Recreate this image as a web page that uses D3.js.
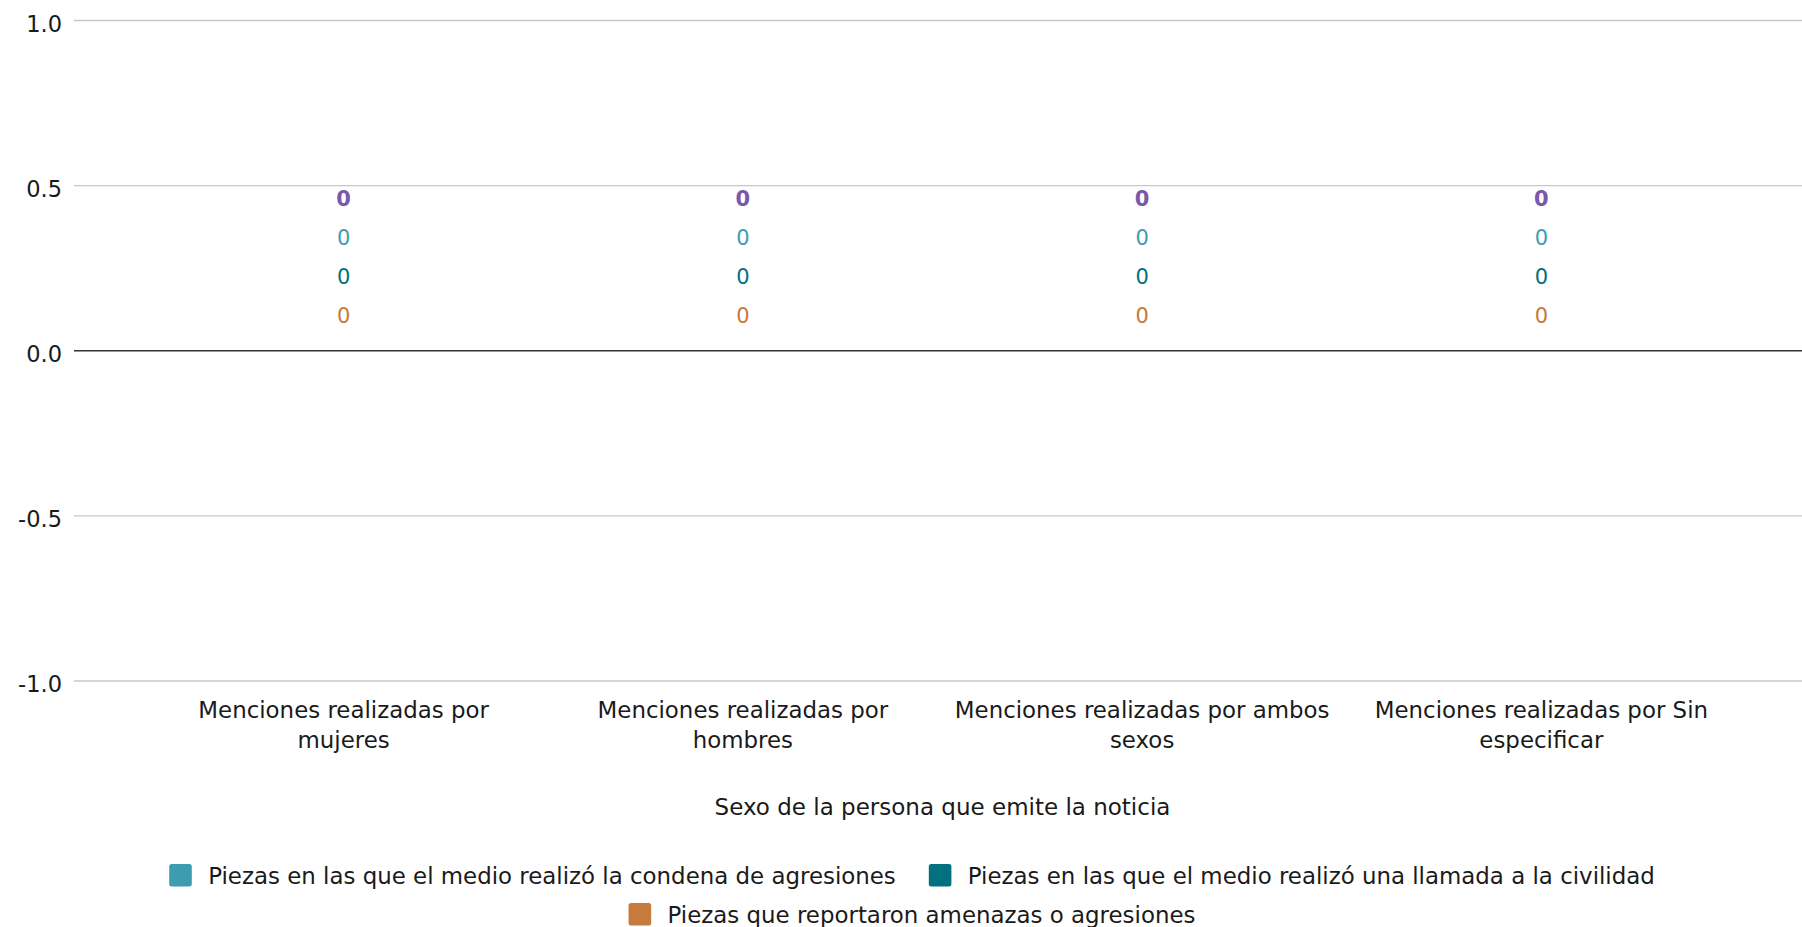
<!DOCTYPE html>
<html>
<head>
<meta charset="utf-8">
<script src="https://cdn.jsdelivr.net/npm/d3@7"></script>
<style>
  html, body { margin: 0; padding: 0; background: #ffffff; }
  svg { display: block; font-family: "DejaVu Sans", Verdana, sans-serif; }
</style>
</head>
<body>
<svg id="chart" width="1802" height="927"></svg>
<script>
// Categories on the x axis
const categories = [
  "Menciones realizadas por mujeres",
  "Menciones realizadas por hombres",
  "Menciones realizadas por ambos sexos",
  "Menciones realizadas por Sin especificar"
];

// Series names (legend order)
const seriesNames = [
  "Piezas en las que el medio realizó la condena de agresiones",
  "Piezas en las que el medio realizó una llamada a la civilidad",
  "Piezas que reportaron amenazas o agresiones"
];

// Series values, one per category
const condena  = [0, 0, 0, 0];
const llamada  = [0, 0, 0, 0];
const amenazas = [0, 0, 0, 0];

const seriesColors = ["#3e9cb0", "#03707f", "#c67a3c"];
const totalColor = "#7b58ab";

// Y axis ticks
const yTicks = [-1.0, -0.5, 0.0, 0.5, 1.0];
const xAxisTitle = "Sexo de la persona que emite la noticia";

const seriesValues = [condena, llamada, amenazas];

const svg = d3.select("#chart");

const gridLeft = 74, gridRight = 1802;
const x = d3.scaleBand().domain(categories).range([144, 1741]).paddingInner(0.3).paddingOuter(0.15);
const y = d3.scaleLinear().domain([-1, 1]).range([681, 20.5]);

// Gridlines
svg.append("g")
  .selectAll("line")
  .data(yTicks.filter(t => t !== 0))
  .join("line")
  .attr("x1", gridLeft).attr("x2", gridRight)
  .attr("y1", d => y(d)).attr("y2", d => y(d))
  .attr("stroke", "#c8c8c8").attr("stroke-width", 1.3);

// Y axis tick labels
const yAxis = d3.axisLeft(y).tickValues(yTicks).tickFormat(d3.format(".1f")).tickSize(0).tickPadding(0);
const yg = svg.append("g").attr("transform", `translate(62,0)`).call(yAxis);
yg.select(".domain").remove();
yg.selectAll("text")
  .attr("font-family", "DejaVu Sans, Verdana, sans-serif")
  .attr("font-size", 22.5)
  .attr("fill", "#1a1a1a")
  .attr("dy", "0.48em")
  .text(d => d3.format(".1f")(d).replace("−", "-"));

// Stack: drawn bottom-up in reverse legend order
const stackOrder = [2, 1, 0];
const stacked = categories.map((c, ci) => {
  let cum = 0;
  return stackOrder.map((si, k) => {
    const v = seriesValues[si][ci];
    const d = { cat: c, ci, si, k, y0: cum, y1: cum + v };
    cum += v;
    return d;
  });
});
const totals = categories.map((c, ci) => d3.sum(seriesValues, s => s[ci]));

// Bars
const bars = svg.append("g");
stacked.forEach(col => {
  bars.selectAll(null)
    .data(col)
    .join("rect")
    .attr("x", d => x(d.cat))
    .attr("width", x.bandwidth())
    .attr("y", d => y(Math.max(d.y0, d.y1)))
    .attr("height", d => Math.abs(y(d.y0) - y(d.y1)))
    .attr("fill", d => seriesColors[d.si]);
});

// Zero baseline
svg.append("line")
  .attr("x1", gridLeft).attr("x2", gridRight)
  .attr("y1", y(0)).attr("y2", y(0))
  .attr("stroke", "#333333").attr("stroke-width", 1.6);

// Value labels, lifted above the stack so they do not overlap
const labelGap = 28, labelStep = 39;
const labelG = svg.append("g").attr("font-size", 21).attr("text-anchor", "middle");
stacked.forEach(col => {
  labelG.selectAll(null)
    .data(col)
    .join("text")
    .attr("x", d => x(d.cat) + x.bandwidth() / 2)
    .attr("y", d => y(d.y1) - labelGap - d.k * labelStep)
    .attr("fill", d => seriesColors[d.si])
    .text(d => seriesValues[d.si][d.ci]);
});
labelG.selectAll(".total")
  .data(categories)
  .join("text")
  .attr("class", "total")
  .attr("x", d => x(d) + x.bandwidth() / 2)
  .attr("y", (d, i) => y(totals[i]) - labelGap - stackOrder.length * labelStep)
  .attr("fill", totalColor)
  .attr("font-weight", "bold")
  .text((d, i) => totals[i]);

// Category labels, wrapped
const catFont = 22.9, catLine = 30, catWrap = 383;
const catG = svg.append("g").attr("font-size", catFont).attr("fill", "#1a1a1a").attr("text-anchor", "middle");
categories.forEach(c => {
  const cx = x(c) + x.bandwidth() / 2;
  const t = catG.append("text").attr("x", cx).attr("y", 718);
  const words = c.split(" ");
  let line = [];
  let ts = t.append("tspan").attr("x", cx).attr("dy", 0);
  words.forEach(w => {
    line.push(w);
    ts.text(line.join(" "));
    if (ts.node().getComputedTextLength() > catWrap && line.length > 1) {
      line.pop();
      ts.text(line.join(" "));
      line = [w];
      ts = t.append("tspan").attr("x", cx).attr("dy", catLine).text(w);
    }
  });
});

// X axis title
const [r0, r1] = x.range();
svg.append("text")
  .attr("x", (r0 + r1) / 2).attr("y", 815)
  .attr("text-anchor", "middle").attr("font-size", 23).attr("fill", "#1a1a1a")
  .text(xAxisTitle);

// Legend, flowing into centred rows
const legFont = 22.9, sw = 22.6, swGap = 16.4, itemGap = 33, rowH = 39, legMax = 1580;
const legG = svg.append("g").attr("font-size", legFont).attr("fill", "#1a1a1a");
const measure = legG.append("text").attr("visibility", "hidden");
const items = seriesNames.map((n, i) => {
  measure.text(n);
  return { name: n, color: seriesColors[i], w: sw + swGap + measure.node().getComputedTextLength() };
});
measure.remove();
const rows = [];
let cur = [], curW = 0;
items.forEach(it => {
  const add = cur.length ? itemGap + it.w : it.w;
  if (cur.length && curW + add > legMax) { rows.push({ items: cur, w: curW }); cur = [it]; curW = it.w; }
  else { cur.push(it); curW += add; }
});
if (cur.length) rows.push({ items: cur, w: curW });
const legCenter = 912;
rows.forEach((row, ri) => {
  let xx = legCenter - row.w / 2;
  const top = 864 + ri * rowH;
  row.items.forEach(it => {
    legG.append("rect").attr("x", xx).attr("y", top).attr("width", sw).attr("height", sw)
      .attr("rx", 2.5).attr("fill", it.color);
    legG.append("text").attr("x", xx + sw + swGap).attr("y", top + 20).text(it.name);
    xx += it.w + itemGap;
  });
});
</script>
</body>
</html>
